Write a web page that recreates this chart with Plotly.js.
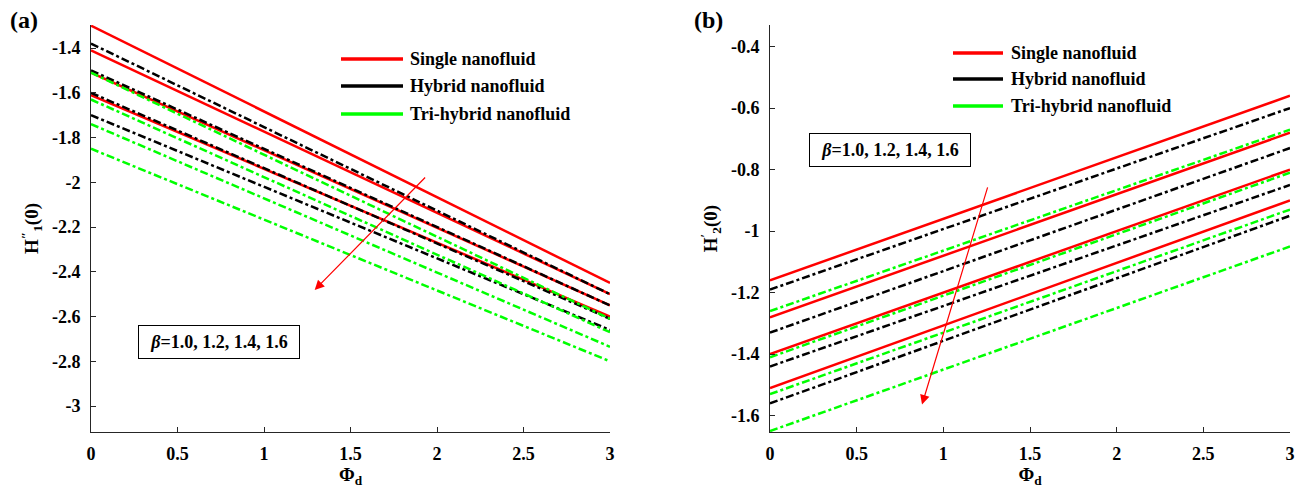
<!DOCTYPE html>
<html>
<head>
<meta charset="utf-8">
<script src="https://cdn.plot.ly/plotly-3.0.1.min.js"></script>
<style>html,body{margin:0;padding:0;background:#fff}#chart{width:1304px;height:492px}</style>
</head>
<body>
<div id="chart"></div>
<script>
// ---- data ----
const phiD = [0, 3];
const betaLabel = ['1.0', '1.2', '1.4', '1.6'];
// panel (a): H1''(0), one [phi=0, phi=3] pair per beta
const aSingle = [[-1.30, -2.45], [-1.41, -2.50], [-1.51, -2.55], [-1.61, -2.60]];
const aHybrid = [[-1.38, -2.50], [-1.50, -2.55], [-1.60, -2.61], [-1.70, -2.66]];
const aTri    = [[-1.51, -2.61], [-1.63, -2.67], [-1.74, -2.735], [-1.85, -2.80]];
// panel (b): H2'(0)
const bSingle = [[-1.16, -0.56], [-1.28, -0.68], [-1.40, -0.80], [-1.51, -0.90]];
const bHybrid = [[-1.19, -0.60], [-1.33, -0.73], [-1.44, -0.85], [-1.56, -0.95]];
const bTri    = [[-1.26, -0.67], [-1.41, -0.81], [-1.53, -0.93], [-1.65, -1.05]];
// ticks
const xTicks = [0, 0.5, 1, 1.5, 2, 2.5, 3];
const xTickText = ['0', '0.5', '1', '1.5', '2', '2.5', '3'];
const aYTicks = [-3, -2.8, -2.6, -2.4, -2.2, -2, -1.8, -1.6, -1.4];
const aYTickText = ['-3', '-2.8', '-2.6', '-2.4', '-2.2', '-2', '-1.8', '-1.6', '-1.4'];
const bYTicks = [-1.6, -1.4, -1.2, -1, -0.8, -0.6, -0.4];
const bYTickText = ['-1.6', '-1.4', '-1.2', '-1', '-0.8', '-0.6', '-0.4'];
const seriesNames = ['Single nanofluid', 'Hybrid nanofluid', 'Tri-hybrid nanofluid'];

// ---- styling ----
const FONT = 'Liberation Serif, Times New Roman, serif';
const styles = [
  {color: '#ff0000', dash: 'solid'},
  {color: '#000000', dash: '8px,3px,3px,3px'},
  {color: '#00ff00', dash: '8px,3px,3px,3px'}
];
const traces = [];
function addPanel(groups, xa, ya) {
  groups.forEach((g, gi) => {
    g.forEach((vals, bi) => {
      traces.push({
        x: phiD, y: vals, xaxis: xa, yaxis: ya, type: 'scatter', mode: 'lines',
        name: seriesNames[gi] + ' β=' + betaLabel[bi], showlegend: false,
        line: {color: styles[gi].color, width: 2.5, dash: styles[gi].dash},
        hoverinfo: 'x+y+name'
      });
    });
  });
}
addPanel([aSingle, aHybrid, aTri], 'x', 'y');
addPanel([bSingle, bHybrid, bTri], 'x2', 'y2');

const W = 1304, H = 492;
const px = v => v / W, py = v => 1 - v / H;
const tickFont = {family: FONT, size: 18, color: '#000', weight: 700};
const titleFont = {family: FONT, size: 19, color: '#000', weight: 700};
function axisBase() {
  return {
    showgrid: false, zeroline: false, showline: true, linecolor: '#262626', linewidth: 1,
    ticks: 'inside', ticklen: 5, tickwidth: 1, tickcolor: '#262626', mirror: false,
    tickfont: tickFont, automargin: false, tickmode: 'array'
  };
}
const layout = {
  width: W, height: H,
  margin: {l: 0, r: 0, t: 0, b: 0},
  paper_bgcolor: '#fff', plot_bgcolor: '#fff',
  showlegend: false,
  xaxis: Object.assign(axisBase(), {domain: [px(91), px(610)], range: [0, 3], anchor: 'y',
    tickvals: xTicks, ticktext: xTickText, ticklabelstandoff: 5,
    title: {text: 'Φ<sub>d</sub>', font: titleFont, standoff: 3}}),
  yaxis: Object.assign(axisBase(), {domain: [py(432), py(25)], range: [-3.116, -1.297], anchor: 'x',
    tickvals: aYTicks, ticktext: aYTickText, ticklabelstandoff: 6,
    title: {text: 'H<sup>″</sup><sub>1</sub>(0)', font: titleFont, standoff: 8}}),
  xaxis2: Object.assign(axisBase(), {domain: [px(770), px(1290)], range: [0, 3], anchor: 'y2',
    tickvals: xTicks, ticktext: xTickText, ticklabelstandoff: 5,
    title: {text: 'Φ<sub>d</sub>', font: titleFont, standoff: 3}}),
  yaxis2: Object.assign(axisBase(), {domain: [py(432), py(25)], range: [-1.653, -0.33], anchor: 'x2',
    tickvals: bYTicks, ticktext: bYTickText, ticklabelstandoff: 6,
    title: {text: 'H<sup>′</sup><sub>2</sub>(0)', font: titleFont, standoff: 8}}),
  shapes: [],
  annotations: []
};

// legends (drawn in paper space)
function legend(x0, x1, ys, tx) {
  ys.forEach((y, i) => {
    layout.shapes.push({type: 'line', xref: 'paper', yref: 'paper', x0: px(x0), x1: px(x1), y0: py(y), y1: py(y),
      line: {color: styles[i].color, width: 3.5}});
    layout.annotations.push({xref: 'paper', yref: 'paper', x: px(tx), y: py(y), xanchor: 'left', yanchor: 'middle',
      text: seriesNames[i], showarrow: false, font: {family: FONT, size: 18, color: '#000', weight: 700}});
  });
}
legend(341, 403, [59, 86, 114], 408);
legend(953, 1003, [53, 79, 106], 1009);

// beta boxes
const betaText = '<i>β</i>=' + betaLabel.join(', ');
[[219, 342], [889.5, 149.5]].forEach(p => {
  layout.annotations.push({xref: 'paper', yref: 'paper', x: px(p[0]), y: py(p[1]), xanchor: 'center', yanchor: 'middle',
    text: betaText, showarrow: false, bordercolor: '#000', borderwidth: 1, borderpad: 5, bgcolor: '#fff',
    width: 150, height: 22, font: {family: FONT, size: 18, color: '#000', weight: 700}});
});

// arrows
layout.annotations.push({xref: 'x', yref: 'y', axref: 'x', ayref: 'y', x: 1.293, y: -2.481, ax: 1.94, ay: -1.972,
  text: '', showarrow: true, arrowhead: 2, arrowsize: 1.6, arrowwidth: 1.2, arrowcolor: '#ff0000'});
layout.annotations.push({xref: 'x2', yref: 'y2', axref: 'x2', ayref: 'y2', x: 0.877, y: -1.564, ax: 1.258, ay: -0.853,
  text: '', showarrow: true, arrowhead: 2, arrowsize: 1.6, arrowwidth: 1.2, arrowcolor: '#ff0000'});

// panel labels
[['(a)', 24], ['(b)', 708]].forEach(l => {
  layout.annotations.push({xref: 'paper', yref: 'paper', x: px(l[1]), y: py(20), xanchor: 'center', yanchor: 'middle',
    text: l[0], showarrow: false, font: {family: FONT, size: 24, color: '#000', weight: 700}});
});

Plotly.newPlot('chart', traces, layout, {displayModeBar: false, staticPlot: true});
</script>
</body>
</html>
